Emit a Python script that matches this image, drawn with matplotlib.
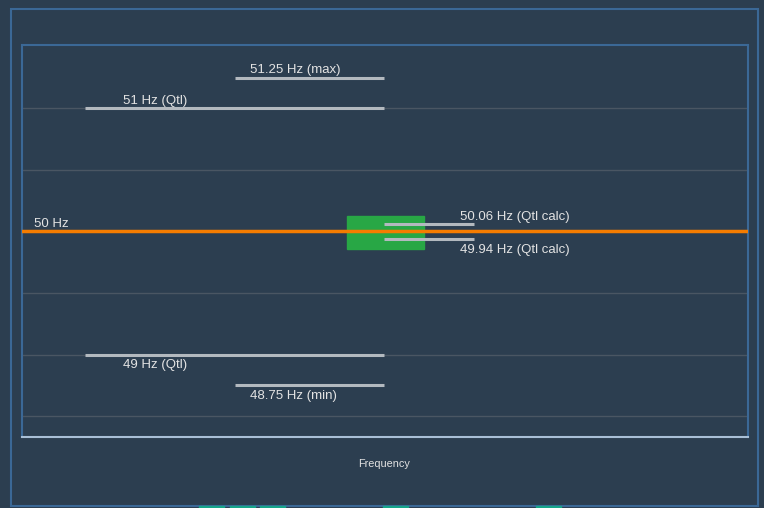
import matplotlib
matplotlib.use('Agg')
import matplotlib.pyplot as plt
from matplotlib.patches import Rectangle

plt.rcParams['font.family'] = ['Liberation Sans', 'DejaVu Sans']

# frequency limits (Hz) and where each marker line sits along the x axis
nominal_hz = 50
limit_hz = [51.25, 51, 50.06, 49.94, 49, 48.75]
limit_labels = ['51.25 Hz (max)', '51 Hz (Qtl)', '50.06 Hz (Qtl calc)',
                '49.94 Hz (Qtl calc)', '49 Hz (Qtl)', '48.75 Hz (min)']
limit_x0 = [0.293, 0.087, 0.499, 0.499, 0.087, 0.293]
limit_x1 = [0.499, 0.499, 0.623, 0.623, 0.499, 0.499]
label_x = [0.314, 0.139, 0.603, 0.603, 0.139, 0.314]
label_side = [1, 1, 1, -1, -1, -1]

# measured band
band_hz = [49.86, 50.125]
band_x = [0.4477, 0.5537]

bg = '#2c3e50'
fig = plt.figure(figsize=(7.64, 5.08), dpi=100, facecolor=bg)
ax = fig.add_axes([22 / 764, 1 - 437 / 508, 726 / 764, 392 / 508])
ax.set_facecolor(bg)

ax.set_xlim(0, 1)
ax.set_ylim(48.33, 51.515)
ax.set_yticks([48.5, 49, 49.5, 50, 50.5, 51])
ax.grid(axis='y', color='#4a5663', linewidth=1)
ax.tick_params(left=False, bottom=False, labelleft=False, labelbottom=False)
for side in ['top', 'left', 'right']:
    ax.spines[side].set_color('#3b6896')
    ax.spines[side].set_linewidth(1.5)
ax.spines['bottom'].set_color('#a9bfd6')
ax.spines['bottom'].set_linewidth(1.5)
ax.set_axisbelow(True)

ax.add_patch(Rectangle((band_x[0], band_hz[0]), band_x[1] - band_x[0],
                       band_hz[1] - band_hz[0], color='#28a745', zorder=2))

ax.axhline(nominal_hz, color='#f57c00', linewidth=2.5, zorder=3)
ax.annotate(f'{nominal_hz} Hz', (0.017, nominal_hz), xytext=(0, 5.4),
            textcoords='offset points', va='center', ha='left',
            color='#e3e3e3', fontsize=9.5)

for hz, lab, x0, x1, lx, s in zip(limit_hz, limit_labels, limit_x0, limit_x1,
                                  label_x, label_side):
    ax.plot([x0, x1], [hz, hz], color='#b3b9bf', linewidth=2.2, zorder=4,
            solid_capstyle='butt')
    off = 5.2 if s > 0 else -7.8
    ax.annotate(lab, (lx, hz), xytext=(0, off), textcoords='offset points',
                va='center', ha='left', color='#e3e3e3', fontsize=9.5)

fig.text(384 / 764, 1 - 464 / 508, 'Frequency', ha='center', va='center',
         color='#e3e3e3', fontsize=7.8)

# outer frame
fig.patches.append(Rectangle((10.5 / 764, 2.5 / 508), 747 / 764, 497 / 508,
                             transform=fig.transFigure, fill=False,
                             edgecolor='#3b6896', linewidth=1.5))

# little tabs peeking in at the bottom edge
for tx in [199, 230, 260, 383, 536]:
    fig.patches.append(Rectangle((tx / 764, 0), 25 / 764, 2.5 / 508,
                                 transform=fig.transFigure,
                                 color='#17a589'))

fig.savefig('out.png', dpi=100, facecolor=bg)
